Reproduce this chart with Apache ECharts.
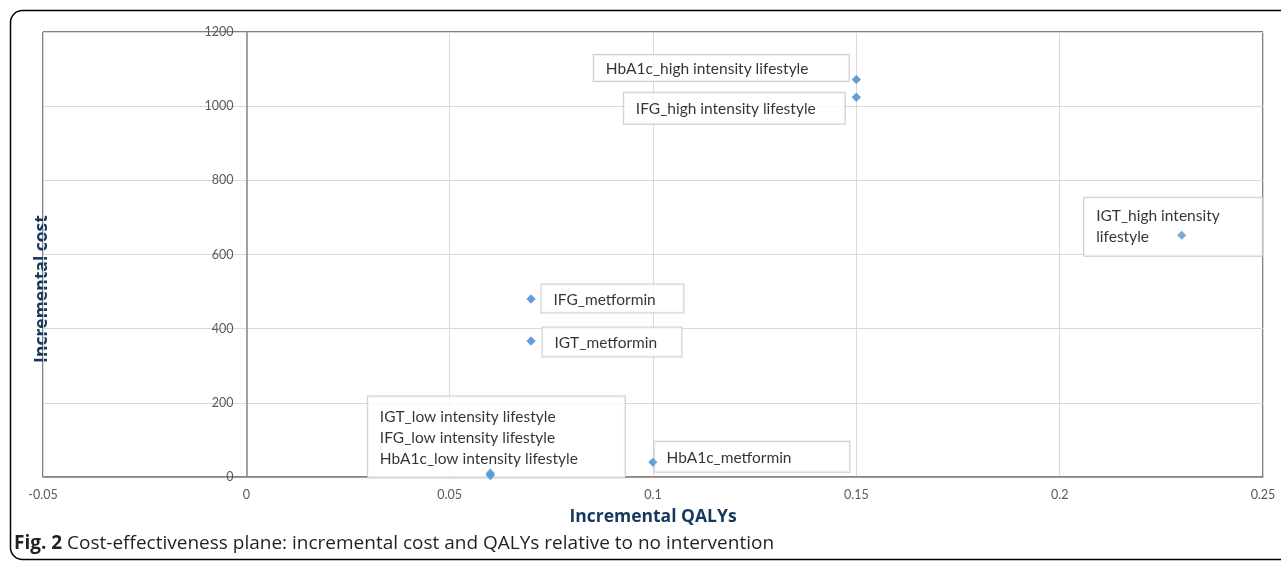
<!DOCTYPE html>
<html>
<head>
<meta charset="utf-8">
<script src="https://cdn.jsdelivr.net/npm/echarts@6/dist/echarts.min.js"></script>
<style>
  html, body { margin: 0; padding: 0; background: #fff; }
  #chart { width: 1281px; height: 563px; }
</style>
</head>
<body>
<div id="chart"></div>
<script>
// incremental QALYs / incremental cost per strategy
const names = [
  'HbA1c_high intensity lifestyle',
  'IFG_high intensity lifestyle',
  'IGT_high intensity lifestyle',
  'IFG_metformin',
  'IGT_metformin',
  'HbA1c_metformin',
  'IGT_low intensity lifestyle',
  'IFG_low intensity lifestyle',
  'HbA1c_low intensity lifestyle'
]
const qalys = [0.15, 0.15, 0.23, 0.07, 0.07, 0.1, 0.06, 0.06, 0.06]
const costs = [1072, 1024, 652, 480, 367, 40, 11, 7, 4]
const xTicks = ['-0.05', '0', '0.05', '0.1', '0.15', '0.2', '0.25']

// label box placement (offset from symbol box, box size, top padding), per point
const labelBoxes = [
  { pos: [-258, -20], w: 255, h: 26, top: 0, text: names[0] },
  { pos: [-228, 0], w: 221, h: 31, top: 0, text: names[1] },
  { pos: [-93, -33], w: 178, h: 58, top: 8, text: 'IGT_high intensity\nlifestyle' },
  { pos: [15, -10], w: 142, h: 28, top: 0, text: names[3] },
  { pos: [16, -9], w: 139, h: 29, top: 0, text: names[4] },
  { pos: [6, -16], w: 195, h: 30, top: 0, text: names[5] },
  { pos: [-118, -72], w: 257, h: 81, top: 10, text: names[6] + '\n' + names[7] + '\n' + names[8] },
  null,
  null
]

const font = 'Lato, "Open Sans", sans-serif'

let chart = echarts.init(document.getElementById('chart'))

let labelled = qalys.map((q, i) => {
  let item = { value: [q, costs[i]], name: names[i] }
  let b = labelBoxes[i]
  if (b) {
    let single = b.text.indexOf('\n') < 0
    item.label = {
      show: true,
      position: b.pos,
      formatter: b.text,
      width: b.w - 24,
      height: b.h - b.top,
      padding: [b.top, 12, 0, 12],
      lineHeight: single ? b.h + 2 : 21,
      verticalAlign: 'top',
      align: 'left',
      backgroundColor: '#fff',
      borderColor: '#bfbfbf',
      borderWidth: 1,
      color: '#000',
      fontFamily: font,
      fontSize: 15.5
    }
  }
  return item
})

let dots = qalys.map((q, i) => [q, costs[i]])

chart.setOption({
  animation: false,
  grid: {
    left: 43,
    top: 32,
    right: 18,
    bottom: 86,
    show: true,
    borderColor: '#000',
    borderWidth: 1
  },
  xAxis: {
    type: 'value',
    min: -0.05,
    max: 0.25,
    interval: 0.05,
    axisLine: { onZero: false, lineStyle: { color: '#868686', width: 1.5 } },
    axisTick: { show: false },
    axisLabel: {
      color: '#595959',
      fontFamily: font,
      fontSize: 12.5,
      margin: 11,
      formatter: (v, idx) => xTicks[idx]
    },
    splitLine: { show: true, lineStyle: { color: '#d9d9d9' } }
  },
  yAxis: {
    type: 'value',
    min: 0,
    max: 1200,
    interval: 200,
    // sits on x = 0
    offset: -203.4,
    axisLine: { show: true, onZero: false, lineStyle: { color: '#868686', width: 1.5 } },
    axisTick: { show: false },
    axisLabel: {
      color: '#595959',
      fontFamily: font,
      fontSize: 12.5,
      margin: 13,
      formatter: v => String(v)
    },
    splitLine: { show: true, lineStyle: { color: '#d9d9d9' } }
  },
  series: [
    {
      type: 'scatter',
      symbol: 'diamond',
      symbolSize: 9,
      itemStyle: { color: '#5b9bd5' },
      data: labelled,
      z: 3
    },
    {
      // markers drawn again above the label boxes
      type: 'scatter',
      symbol: 'diamond',
      symbolSize: 9,
      itemStyle: { color: '#5b9bd5' },
      data: dots,
      z: 10
    }
  ],
  graphic: [
    {
      type: 'rect',
      shape: { x: 10.5, y: 10.5, width: 1290, height: 549, r: 12 },
      style: { fill: 'none', stroke: '#000', lineWidth: 1.5 },
      silent: true
    },
    {
      type: 'text',
      x: 653,
      y: 517,
      style: {
        text: 'Incremental QALYs',
        fill: '#17375e',
        font: 'bold 17.5px "Open Sans", sans-serif',
        textAlign: 'center',
        textVerticalAlign: 'middle'
      }
    },
    {
      type: 'text',
      x: 42,
      y: 289,
      rotation: Math.PI / 2,
      style: {
        text: 'Incremental cost',
        fill: '#17375e',
        font: 'bold 17.5px "Open Sans", sans-serif',
        textAlign: 'center',
        textVerticalAlign: 'middle'
      }
    },
    {
      type: 'text',
      x: 14,
      y: 544,
      style: {
        text: '{b|Fig. 2} Cost-effectiveness plane: incremental cost and QALYs relative to no intervention',
        fill: '#231f20',
        font: '19px "Open Sans", sans-serif',
        textVerticalAlign: 'middle',
        rich: {
          b: { fontWeight: 'bold', fontSize: 19, fontFamily: '"Open Sans", sans-serif', fill: '#231f20' }
        }
      }
    }
  ]
})
</script>
</body>
</html>
